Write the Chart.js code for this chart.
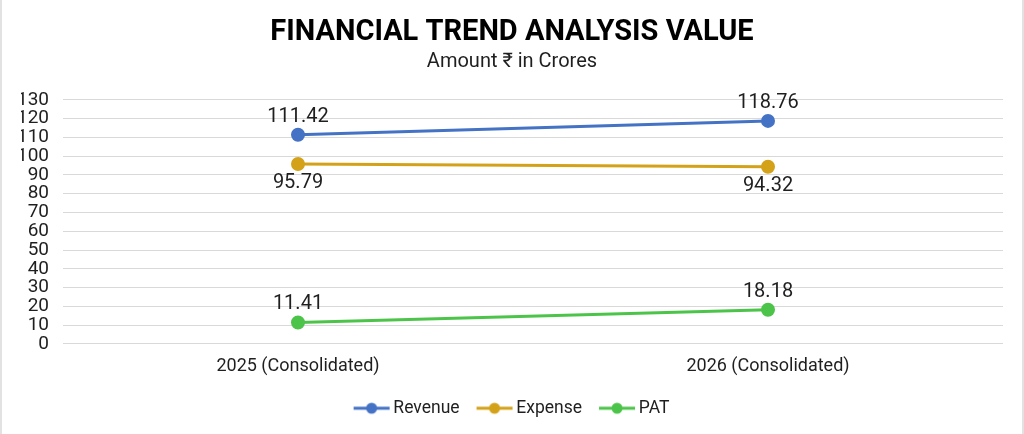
<!DOCTYPE html>
<html>
<head>
<meta charset="utf-8">
<script src="https://cdn.jsdelivr.net/npm/chart.js@4.4.1/dist/chart.umd.min.js"></script>
<style>
  html, body { margin: 0; padding: 0; background: #ffffff; }
  .wrap {
    position: relative;
    width: 1024px;
    height: 434px;
    box-sizing: border-box;
    border-left: 2px solid #e2e2e2;
    border-right: 2px solid #e2e2e2;
  }
</style>
</head>
<body>
<div class="wrap"><canvas id="trend"></canvas></div>
<script>
const categories = ["2025 (Consolidated)", "2026 (Consolidated)"];
const revenue = [111.42, 118.76];
const expense = [95.79, 94.32];
const pat = [11.41, 18.18];
const yTicks = [0, 10, 20, 30, 40, 50, 60, 70, 80, 90, 100, 110, 120, 130];

const FONT = "Roboto, 'Noto Sans', sans-serif";

// line + dot swatch, like the office-style legend.
// The image is centred on the legend box, so the line sits a bit to the right
// to get the tight line-to-text spacing of the original.
function legendSwatch(color) {
  const c = document.createElement("canvas");
  c.width = 42;
  c.height = 14;
  const ctx = c.getContext("2d");
  ctx.strokeStyle = color;
  ctx.lineWidth = 3;
  ctx.beginPath();
  ctx.moveTo(5, 7);
  ctx.lineTo(41, 7);
  ctx.stroke();
  ctx.fillStyle = color;
  ctx.beginPath();
  ctx.arc(23, 7, 5.5, 0, Math.PI * 2);
  ctx.fill();
  return c;
}

const valueLabels = {
  id: "valueLabels",
  afterDatasetsDraw(chart) {
    const ctx = chart.ctx;
    ctx.save();
    ctx.font = "20px " + FONT;
    ctx.fillStyle = "#1f1f1f";
    ctx.textAlign = "center";
    ctx.textBaseline = "middle";
    chart.data.datasets.forEach((ds, i) => {
      const meta = chart.getDatasetMeta(i);
      meta.data.forEach((pt, j) => {
        const dy = ds.labelBelow ? 19 : -18;
        ctx.fillText(ds.data[j].toFixed(2), pt.x, pt.y + dy);
      });
    });
    ctx.restore();
  }
};

function series(label, data, color, below) {
  return {
    label: label,
    data: data,
    borderColor: color,
    backgroundColor: color,
    pointBackgroundColor: color,
    pointBorderColor: color,
    borderWidth: 3,
    pointRadius: 5.5,
    pointHoverRadius: 5.5,
    tension: 0,
    labelBelow: below
  };
}

new Chart(document.getElementById("trend"), {
  type: "line",
  data: {
    labels: categories,
    datasets: [
      series("Revenue", revenue, "#4472c4", false),
      series("Expense", expense, "#d4a218", true),
      series("PAT", pat, "#4cc449", false)
    ]
  },
  plugins: [valueLabels],
  options: {
    responsive: true,
    maintainAspectRatio: false,
    animation: false,
    layout: { padding: { left: 19, right: 19, top: 12, bottom: 7 } },
    scales: {
      x: {
        offset: true,
        grid: { display: false },
        border: { display: false },
        ticks: { color: "#1f1f1f", font: { family: FONT, size: 18 }, padding: 4 }
      },
      y: {
        min: 0,
        max: 130,
        afterBuildTicks(scale) {
          scale.ticks = yTicks.map((v) => ({ value: v }));
        },
        afterFit(scale) {
          scale.width = 42;
        },
        grid: { color: "#d9d9d9", lineWidth: 1, drawTicks: false },
        border: { display: false },
        ticks: {
          autoSkip: false,
          color: "#1f1f1f",
          font: { family: FONT, size: 19 },
          padding: 14
        }
      }
    },
    plugins: {
      title: {
        display: true,
        text: "FINANCIAL TREND ANALYSIS VALUE",
        color: "#000000",
        font: { family: FONT, size: 29, weight: "bold" },
        padding: { top: 3, bottom: 0 }
      },
      subtitle: {
        display: true,
        text: "Amount ₹ in Crores",
        color: "#1f1f1f",
        font: { family: FONT, size: 20 },
        padding: { top: 0, bottom: 26 }
      },
      legend: {
        position: "bottom",
        labels: {
          usePointStyle: true,
          pointStyleWidth: 30,
          boxHeight: 12,
          padding: 18,
          color: "#1f1f1f",
          font: { family: FONT, size: 17.5 },
          generateLabels(chart) {
            return chart.data.datasets.map((ds, i) => ({
              text: ds.label,
              fillStyle: ds.borderColor,
              strokeStyle: ds.borderColor,
              fontColor: "#1f1f1f",
              pointStyle: legendSwatch(ds.borderColor),
              lineWidth: 0,
              hidden: false,
              datasetIndex: i
            }));
          }
        }
      },
      tooltip: { enabled: false }
    }
  }
});
</script>
</body>
</html>
